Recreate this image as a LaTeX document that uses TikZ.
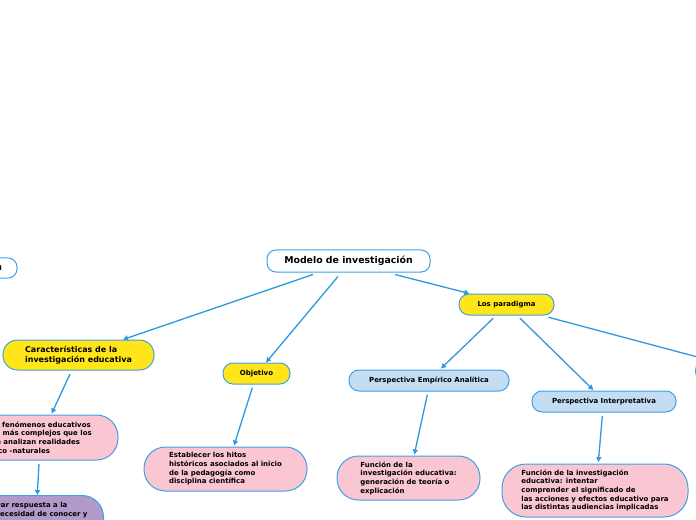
\documentclass[tikz,border=0pt]{standalone}
\usepackage{fontspec}
\setmainfont{DejaVu Sans}
\usetikzlibrary{arrows.meta,calc}
\definecolor{edgeblue}{HTML}{2B9AE0}
\definecolor{bordblue}{HTML}{3FA0E6}
\definecolor{yel}{HTML}{FFE51A}
\definecolor{lblue}{HTML}{C4DDF2}
\definecolor{pinkf}{HTML}{F9C6D2}
\definecolor{purp}{HTML}{B19AC9}
\tikzset{
  base/.style={draw=bordblue, line width=1bp, align=left, inner sep=0pt, text=black},
  whitebox/.style={base, fill=white, rounded corners=9bp, font=\fontsize{9.4}{11}\selectfont\bfseries},
  yelbig/.style={base, fill=yel, rounded corners=14.5bp, font=\fontsize{8}{9.6}\selectfont\bfseries},
  yelsmall/.style={base, fill=yel, rounded corners=10bp, font=\fontsize{7}{8.7}\selectfont\bfseries},
  bluebox/.style={base, fill=lblue, rounded corners=10bp, font=\fontsize{7}{8.7}\selectfont\bfseries},
  pinkbox/.style={base, fill=pinkf, rounded corners=21.5bp, font=\fontsize{7}{8.7}\selectfont\bfseries},
  purplebox/.style={base, fill=purp, rounded corners=21.5bp},
  txt/.style={inner sep=0pt, align=left, font=\fontsize{7}{8.7}\selectfont\bfseries},
  conn/.style={draw=edgeblue, line width=1.3bp, -{Triangle[length=5bp,width=5bp]}},
}
\begin{document}
\begin{tikzpicture}[x=1bp,y=-1bp]
\useasboundingbox (0,0) rectangle (696,520);
\clip (0,0) rectangle (696,520);
\fill[white] (0,0) rectangle (696,520);

% top level
\node[whitebox, minimum width=163bp, minimum height=22bp] (modelo) at (348.5,261) {Modelo de investigación};
\node[whitebox, minimum height=20bp, inner xsep=15bp, anchor=east] (leftnode) at (17.5,268) {Metodología de investigación};

% second level
\node[yelbig, minimum width=151bp, minimum height=30bp] (carac) at (78.5,355) {Características de la\\investigación educativa};
\node[yelsmall, minimum width=67bp, minimum height=21bp] (objetivo) at (256.5,373.5) {Objetivo};
\node[yelsmall, minimum width=95bp, minimum height=21bp] (paradigma) at (506.5,304.5) {Los paradigma};

% paradigms
\node[bluebox, minimum width=160bp, minimum height=21bp] (empirico) at (429,380.5) {Perspectiva Empírico Analítica};
\node[bluebox, minimum width=144bp, minimum height=21bp] (interp) at (604,401.5) {Perspectiva Interpretativa};
\node[bluebox, minimum width=144bp, minimum height=21bp, anchor=west] (rightnode) at (695,371) {};

% leaves
\node[pinkbox, minimum width=158bp, minimum height=45bp] (pinkL) at (39,437.5) {Los fenómenos educativos\\son más complejos que los\\que analizan realidades\\físico -naturales};
\node[purplebox, minimum width=155bp, minimum height=60bp, anchor=north east] (purple) at (104,495) {};
\node[txt, anchor=north west] (purpletxt) at (-5,502) {Dar respuesta a la\\necesidad de conocer y};
\node[pinkbox, minimum width=163bp, minimum height=44bp] (pinkO) at (225.5,469) {Establecer los hitos\\históricos asociados al inicio\\de la pedagogía como\\disciplina científica};
\node[pinkbox, minimum width=143bp, minimum height=44bp] (pinkE) at (408.5,478) {Función de la\\investigación educativa:\\generación de teoría o\\explicación};
\node[pinkbox, minimum width=186bp, minimum height=53bp, rounded corners=24bp] (pinkI) at (595,490.5) {Función de la investigación\\educativa: intentar\\comprender el significado de\\las acciones y efectos educativo para\\las distintas audiencias implicadas};

% connectors
\draw[conn] ($(modelo.south)+(-35.5,2)$) -- ($(carac.north)+(44.5,0)$);
\draw[conn] ($(modelo.south)+(-10.5,4)$) -- ($(objetivo.north)+(9.5,0)$);
\draw[conn] ($(modelo.south)+(46.5,2)$) -- ($(paradigma.north)+(-37.2,0)$);
\draw[conn] ($(paradigma.south)+(-13.2,2.7)$) -- ($(empirico.north)+(12,-1)$);
\draw[conn] ($(paradigma.south)+(13.5,2.7)$) -- ($(interp.north)+(-10.7,-0.5)$);
\draw[conn] ($(paradigma.south)+(41.8,1.7)$) -- ($(rightnode.north west)+(13.7,0)$);
\draw[conn] ($(carac.south)+(-8.5,3.5)$) -- ($(pinkL.north)+(12.7,-1)$);
\draw[conn] ($(pinkL.south)+(0,3.3)$) -- ($(purple.north)+(11.2,0)$);
\draw[conn] ($(objetivo.south)+(-4.2,3.3)$) -- ($(pinkO.north)+(8.5,-1)$);
\draw[conn] ($(empirico.south)+(-1.7,3.3)$) -- ($(pinkE.north)+(5.8,-1)$);
\draw[conn] ($(interp.south)+(-1.7,3.7)$) -- ($(pinkI.north)+(3.3,-1.5)$);
\end{tikzpicture}
\end{document}
